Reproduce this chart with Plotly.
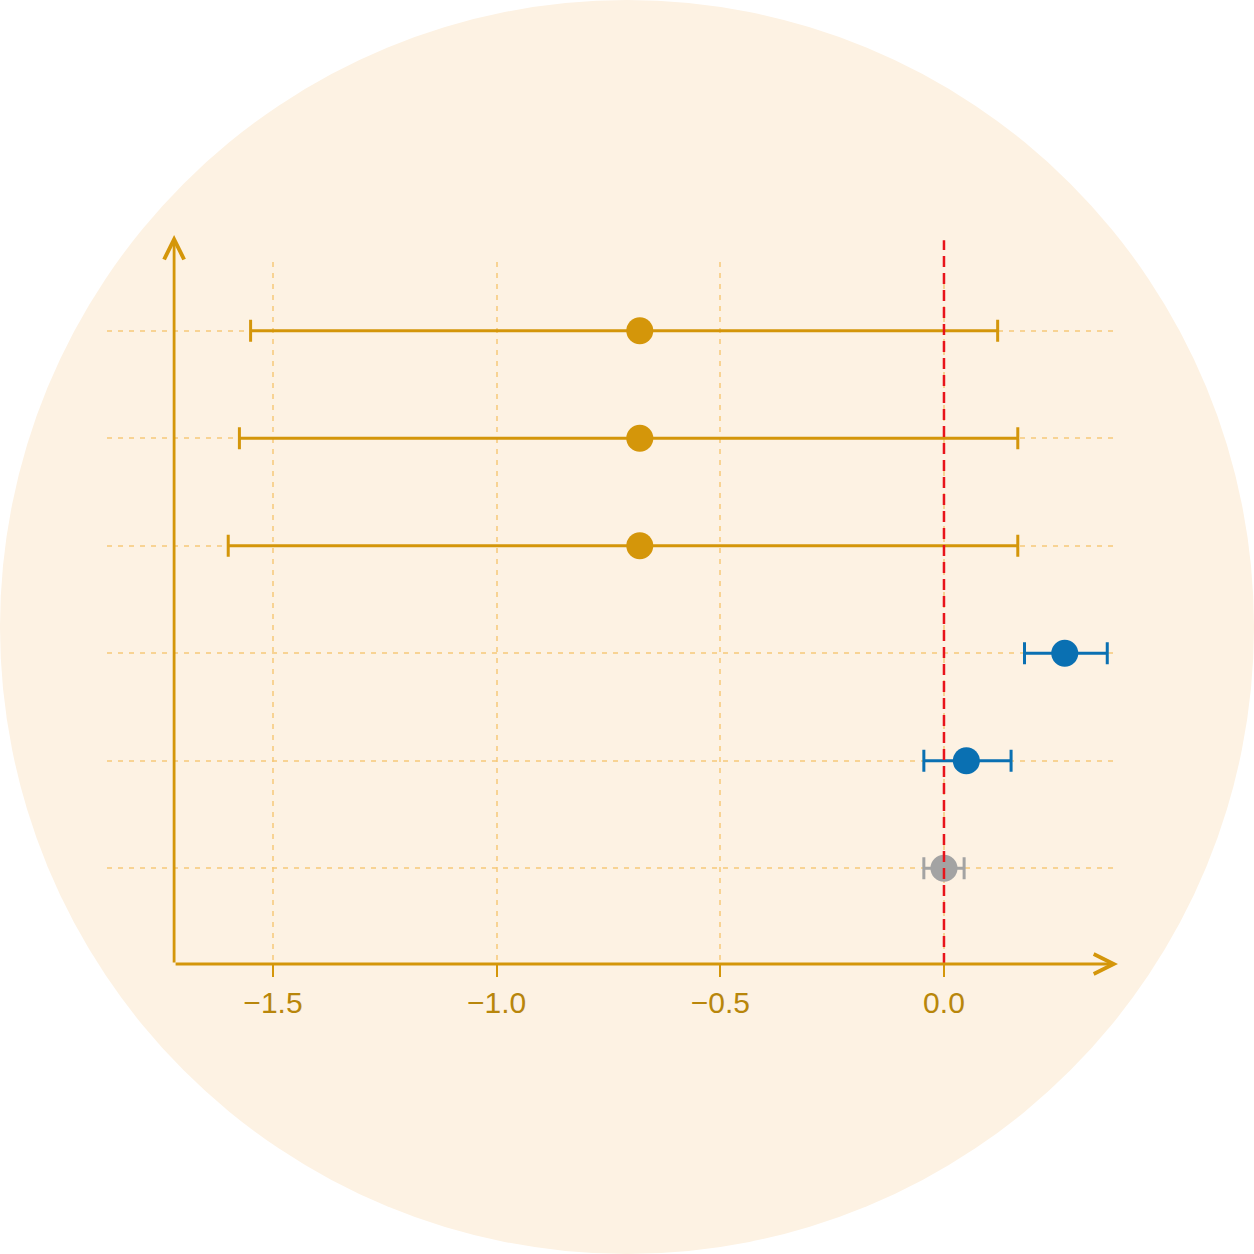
import plotly.graph_objects as go

# ---- data ----
row_pos = [6, 5, 4, 3, 2, 1]
estimate = [-0.68, -0.68, -0.68, 0.27, 0.05, 0.0]
ci_low = [-1.55, -1.575, -1.60, 0.18, -0.045, -0.045]
ci_high = [0.12, 0.165, 0.165, 0.365, 0.15, 0.045]
group = ["neg", "neg", "neg", "pos", "pos", "ref"]
x_ticks = [-1.5, -1.0, -0.5, 0.0]

colors = {"neg": "#D4960A", "pos": "#0A70B2", "ref": "#A3A3A3"}
gold = "#D4960A"
grid_col = "rgba(245,200,120,0.75)"

W = H = 1254
L, R, T, B = 107, 136, 262, 290
x_range = [-1.871, 0.389]
y_range = [0.11, 6.64]
y_axis_x = -1.721

fig = go.Figure()

# background circle
pw, ph = W - L - R, H - T - B
fig.add_shape(type="circle", xref="paper", yref="paper",
              x0=-L / pw, x1=(W - L) / pw,
              y0=-B / ph, y1=(H - B) / ph,
              fillcolor="#FDF2E3", line=dict(width=0), layer="below")

for g in ["neg", "pos", "ref"]:
    idx = [i for i, gg in enumerate(group) if gg == g]
    xs = [estimate[i] for i in idx]
    ys = [row_pos[i] for i in idx]
    plus = [ci_high[i] - estimate[i] for i in idx]
    minus = [estimate[i] - ci_low[i] for i in idx]
    fig.add_trace(go.Scatter(
        x=xs, y=ys, mode="markers",
        marker=dict(size=27, color=colors[g], line=dict(width=0)),
        error_x=dict(type="data", symmetric=False, array=plus, arrayminus=minus,
                     color=colors[g], thickness=3, width=11),
        showlegend=False, hoverinfo="skip",
    ))

# reference line at zero
fig.add_shape(type="line", xref="x", yref="paper", x0=0, x1=0, y0=0, y1=1.031,
              line=dict(color="#E8141B", width=2.5, dash="11px,6px"), layer="above")

# axis lines with arrows
fig.add_annotation(x=x_range[1], y=y_range[0], ax=y_axis_x, ay=y_range[0],
                   xref="x", yref="y", axref="x", ayref="y", text="",
                   showarrow=True, arrowhead=5, arrowsize=1.4, arrowwidth=2.8,
                   arrowcolor=gold, standoff=0)
fig.add_annotation(x=y_axis_x, y=y_range[1] + 0.25, ax=y_axis_x, ay=y_range[0],
                   xref="x", yref="y", axref="x", ayref="y", text="",
                   showarrow=True, arrowhead=5, arrowsize=1.4, arrowwidth=2.8,
                   arrowcolor=gold, standoff=0)

fig.update_xaxes(range=x_range, tickvals=x_ticks, tickformat=".1f",
                 showgrid=True, gridcolor=grid_col, griddash="5px,6px", gridwidth=1.5,
                 zeroline=False, showline=False,
                 ticks="outside", ticklen=12, tickwidth=2, tickcolor=gold,
                 tickfont=dict(family="Liberation Sans, Arial, sans-serif", size=30, color="#B8860B"))
fig.update_yaxes(range=y_range, tickvals=row_pos, showticklabels=False,
                 showgrid=True, gridcolor=grid_col, griddash="5px,6px", gridwidth=1.5,
                 zeroline=False, showline=False, ticks="")

fig.update_layout(width=W, height=H, autosize=False,
                  margin=dict(l=L, r=R, t=T, b=B),
                  paper_bgcolor="white", plot_bgcolor="rgba(0,0,0,0)")

fig.write_html("out.html", config={"displayModeBar": False},
               post_script="document.body.style.margin='0px';")
